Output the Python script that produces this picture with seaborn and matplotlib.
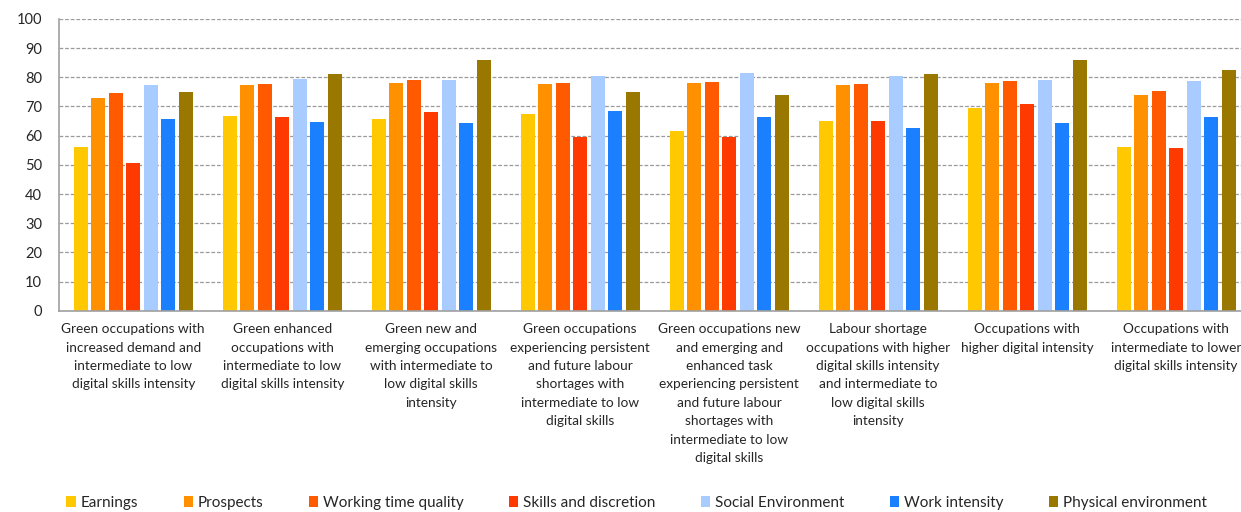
import numpy as np
import pandas as pd
import matplotlib
matplotlib.use("Agg")
import matplotlib.pyplot as plt
import seaborn as sns
from matplotlib.patches import Patch

# ----------------------------------------------------------
# Data
# ----------------------------------------------------------
groups = [
    "Green occupations with\nincreased demand and\nintermediate to low\ndigital skills intensity",
    "Green enhanced\noccupations with\nintermediate to low\ndigital skills intensity",
    "Green new and\nemerging occupations\nwith intermediate to\nlow digital skills\nintensity",
    "Green occupations\nexperiencing persistent\nand future labour\nshortages with\nintermediate to low\ndigital skills",
    "Green occupations new\nand emerging and\nenhanced task\nexperiencing persistent\nand future labour\nshortages with\nintermediate to low\ndigital skills",
    "Labour shortage\noccupations with higher\ndigital skills intensity\nand intermediate to\nlow digital skills\nintensity",
    "Occupations with\nhigher digital intensity",
    "Occupations with\nintermediate to lower\ndigital skills intensity",
]

dimensions = ["Earnings", "Prospects", "Working time quality", "Skills and discretion",
              "Social Environment", "Work intensity", "Physical environment"]

earnings = [56.0, 66.6, 65.7, 67.3, 61.6, 64.9, 69.5, 56.0]
prospects = [72.9, 77.2, 78.0, 77.8, 77.9, 77.3, 77.9, 73.8]
working_time = [74.5, 77.7, 79.1, 78.2, 78.5, 77.7, 78.9, 75.2]
skills = [50.5, 66.3, 68.1, 59.7, 59.4, 65.2, 70.7, 55.9]
social_env = [77.2, 79.5, 79.0, 80.6, 81.5, 80.3, 79.1, 78.7]
work_intensity = [65.7, 64.8, 64.5, 68.6, 66.3, 62.5, 64.4, 66.3]
physical_env = [74.8, 81.0, 85.9, 75.0, 73.9, 81.0, 85.8, 82.5]

colors = ["#FFC800", "#FF9000", "#FF5A00", "#FF3A00", "#A8CCFF", "#1A80FF", "#9A7800"]

series = [earnings, prospects, working_time, skills, social_env, work_intensity, physical_env]
df = pd.DataFrame({
    "group": np.tile(groups, len(dimensions)),
    "dimension": np.repeat(dimensions, len(groups)),
    "value": np.concatenate(series),
})

# ----------------------------------------------------------
# Plot
# ----------------------------------------------------------
sns.set_style("white")
plt.rcParams["font.family"] = ["Lato", "DejaVu Sans"]

fig = plt.figure(figsize=(12.41, 5.12), dpi=100)
ax = fig.add_axes([0.0473, 0.393, 0.9605, 0.570])

sns.barplot(data=df, x="group", y="value", hue="dimension", order=groups,
            hue_order=dimensions, palette=colors, saturation=1, width=0.82, gap=0.2,
            linewidth=0, ax=ax, legend=False)

ax.set_ylim(0, 100)
ax.set_xlim(-0.5, len(groups) - 0.5)
ax.set_yticks(range(0, 101, 10))
ax.yaxis.grid(True, linestyle=(0, (3, 1.5)), color="#9a9a9a", linewidth=0.9)
ax.set_axisbelow(True)
ax.set_xlabel("")
ax.set_ylabel("")

for side in ["top", "right"]:
    ax.spines[side].set_visible(False)
for side in ["left", "bottom"]:
    ax.spines[side].set_color("#a0a0a0")
    ax.spines[side].set_linewidth(1.2)

ax.set_xticks(range(len(groups)))
ax.set_xticklabels(groups, fontsize=9.8, linespacing=1.64, va="top")
ax.set_xticks(np.arange(-0.5, len(groups), 1.0), minor=True)
ax.tick_params(axis="x", which="major", length=0, pad=9)
ax.tick_params(axis="x", which="minor", length=4, color="#a0a0a0", width=1.2)
ax.tick_params(axis="y", length=4, color="#a0a0a0", width=1.2, pad=8, labelsize=10.5)

handles = [Patch(facecolor=c, edgecolor="none") for c in colors]
fig.legend(handles, dimensions, loc="center", bbox_to_anchor=(0.513, 0.018), ncol=7,
           frameon=False, fontsize=11, handlelength=0.6, handleheight=0.7,
           handletextpad=0.3, columnspacing=3.0)

fig.savefig("out.png", dpi=100)
